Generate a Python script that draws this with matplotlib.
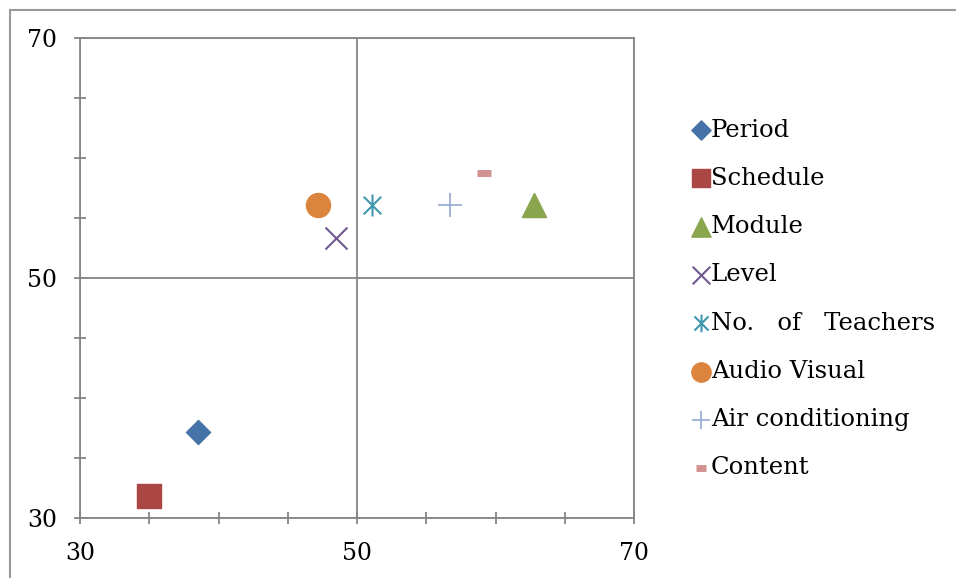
import numpy as np
import matplotlib
matplotlib.use("Agg")
import matplotlib.pyplot as plt
from matplotlib.path import Path
from matplotlib.patches import Rectangle

labels = ["Period", "Schedule", "Module", "Level", "No.   of   Teachers",
          "Audio Visual", "Air conditioning", "Content"]
x_vals = [38.5, 35.0, 62.8, 48.5, 51.1, 47.2, 56.7, 59.2]
y_vals = [37.2, 31.8, 56.1, 53.3, 56.1, 56.1, 56.1, 58.75]
colors = ["#4572A7", "#AA4643", "#89A54E", "#71588F", "#4198AF",
          "#DB843D", "#93A9CF", "#D19392"]

# excel style star: vertical bar + X
star = Path([(0, -1), (0, 1), (-0.8, -0.8), (0.8, 0.8), (-0.8, 0.8), (0.8, -0.8)],
            [Path.MOVETO, Path.LINETO, Path.MOVETO, Path.LINETO, Path.MOVETO, Path.LINETO])

styles = [
    dict(marker="D", s=150),
    dict(marker="s", s=280),
    dict(marker="^", s=300),
    dict(marker="x", s=250, linewidths=1.5),
    dict(marker=star, s=250, linewidths=1.5),
    dict(marker="o", s=300),
    dict(marker="+", s=280, linewidths=1.2),
    dict(marker="_", s=90, linewidths=5),
]

plt.rcParams['font.family'] = ['DejaVu Serif']
grey = "#868686"

fig = plt.figure(figsize=(9.56, 5.78), dpi=100)
ax = fig.add_axes([80 / 956, 1 - 518 / 578, 554 / 956, 480 / 578])

for lab, xv, yv, c, st in zip(labels, x_vals, y_vals, colors, styles):
    ax.scatter([xv], [yv], color=c, label=lab, zorder=3, **st)

ax.set_xlim(30, 70)
ax.set_ylim(30, 70)
ax.set_xticks([30, 50, 70])
ax.set_yticks([30, 50, 70])
ax.set_xticks(np.arange(30, 71, 5), minor=True)
ax.set_yticks(np.arange(30, 71, 5), minor=True)
ax.grid(True, which="major", color=grey, lw=1.3)
for sp in ax.spines.values():
    sp.set_color(grey)
    sp.set_linewidth(1.3)
ax.tick_params(which="both", direction="inout", length=9, width=1.3, color=grey,
               labelsize=17, top=False, right=False)
ax.tick_params(axis="x", pad=13)
ax.tick_params(axis="y", pad=12)

fig.legend(loc="center left", bbox_to_anchor=(672 / 956, 1 - 299 / 578),
           frameon=False, fontsize=17.5, handlelength=0.6, handletextpad=0.1,
           labelspacing=1.04, markerscale=0.8, scatterpoints=1)

fig.add_artist(Rectangle((10 / 956, -0.1), 2, 1.1 - 10 / 578,
                         transform=fig.transFigure, fill=False, ec="#999999", lw=1.5))

fig.savefig("out.png", dpi=100)
